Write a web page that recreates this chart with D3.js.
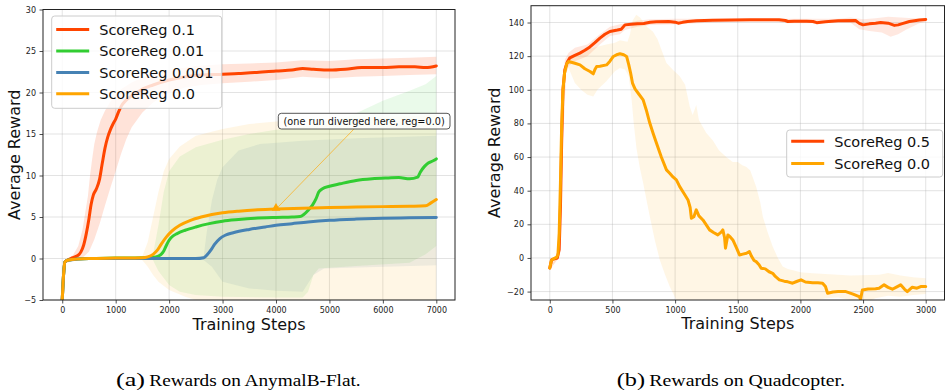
<!DOCTYPE html>
<html>
<head>
<meta charset="utf-8">
<script src="https://cdn.jsdelivr.net/npm/d3@7"></script>
<style>
  body { margin: 0; background: #fff; }
  svg { display: block; }
</style>
</head>
<body>
<svg id="fig" width="946" height="392"></svg>
<script>
// ---------------- AnymalB-Flat (left panel) ----------------
const anymalLabels = ["ScoreReg 0.1", "ScoreReg 0.01", "ScoreReg 0.001", "ScoreReg 0.0"];
const anymalColors = ["#ff4500", "#32cd32", "#4682b4", "#ffa500"];
const anymalXTicks = [0, 1000, 2000, 3000, 4000, 5000, 6000, 7000];
const anymalYTicks = [-5, 0, 5, 10, 15, 20, 25, 30];

// mean curves: [step, reward]
const anymalReg01 = [[0,-5],[30,-1.5],[50,-0.4],[100,-0.2],[200,0.1],[300,0.4],[350,0.8],[400,1.6],[450,3],[500,4.8],[540,6.5],[580,7.6],[640,8.4],[700,9.6],[750,11.5],[800,13.3],[850,14.6],[900,15.5],[950,16.2],[1000,16.8],[1050,17.6],[1100,18.3],[1200,19.1],[1300,19.6],[1400,20],[1500,20.4],[1700,20.9],[2000,21.5],[2300,21.9],[2600,22.1],[3000,22.2],[3300,22.3],[3600,22.4],[4000,22.6],[4300,22.7],[4500,22.9],[4700,22.8],[5000,22.7],[5300,22.8],[5600,23.0],[6000,23.0],[6300,23.1],[6600,23.1],[6800,23.0],[7000,23.2]];
const anymalReg001 = [[0,-5],[30,-1.5],[50,-0.4],[100,-0.2],[500,0],[1000,0.05],[1500,0.1],[1700,0.15],[1800,0.3],[1850,0.5],[1900,0.9],[1950,1.6],[2000,2.2],[2050,2.6],[2150,3.0],[2300,3.4],[2500,3.8],[2750,4.2],[3000,4.5],[3300,4.7],[3600,4.85],[4000,4.95],[4300,5.0],[4450,5.05],[4520,5.3],[4600,5.8],[4680,6.4],[4750,7.2],[4800,8.0],[4870,8.4],[5000,8.7],[5200,9.0],[5500,9.4],[5800,9.6],[6100,9.7],[6300,9.75],[6500,9.6],[6650,9.8],[6700,10.4],[6780,11.1],[6850,11.5],[6950,11.8],[7000,12]];
const anymalReg0001 = [[0,-5],[30,-1.5],[50,-0.4],[100,-0.2],[500,0],[1000,0],[1500,0],[2000,0],[2500,0],[2650,0.1],[2720,0.5],[2780,1.0],[2850,1.7],[2950,2.4],[3050,2.8],[3200,3.1],[3500,3.5],[3800,3.8],[4000,4.0],[4300,4.2],[4600,4.4],[5000,4.6],[5500,4.75],[6000,4.85],[6500,4.9],[7000,4.95]];
const anymalReg0 = [[0,-5],[30,-1.5],[50,-0.4],[100,-0.2],[500,0],[1000,0.05],[1500,0.1],[1600,0.2],[1700,0.5],[1780,1.0],[1850,1.7],[1950,2.6],[2050,3.3],[2200,4.0],[2400,4.6],[2600,5.0],[2800,5.3],[3000,5.5],[3300,5.7],[3600,5.85],[4000,5.95],[4500,6.05],[5000,6.15],[5500,6.2],[6000,6.25],[6500,6.3],[6800,6.35],[6900,6.7],[7000,7.1]];

// spread bands: upper and lower edges, [step, reward]
const anymalReg01Hi = [[0,-4.8],[50,-0.2],[200,0.4],[300,1.5],[380,3.5],[430,5.5],[480,7.5],[520,10],[560,12],[600,13.8],[650,15.2],[720,16.7],[800,17.8],[900,18.9],[1000,19.7],[1100,20.4],[1300,21.2],[1500,21.8],[1800,22.4],[2000,22.7],[2500,23.2],[3000,23.4],[3500,23.5],[4000,23.6],[4500,23.9],[5000,23.8],[5500,24],[6000,24.1],[6500,24.2],[7000,24.3]];
const anymalReg01Lo = [[0,-5.2],[50,-0.6],[200,-0.3],[300,-0.1],[400,0.2],[500,0.8],[600,2.3],[700,4.2],[800,6.4],[900,8.5],[1000,10.5],[1100,12.6],[1200,14.4],[1300,15.8],[1500,17.6],[1700,18.8],[2000,20],[2300,20.6],[2600,20.9],[3000,21.1],[3500,21.3],[4000,21.5],[4500,21.9],[5000,21.7],[5500,21.9],[6000,22],[6500,22.1],[7000,22.2]];
const anymalReg001Hi = [[1600,0.2],[1700,0.5],[1800,4],[1900,8],[2000,10.5],[2200,12.3],[2500,13.4],[3000,14.3],[3500,15],[4000,15.5],[4500,15.9],[5000,16.3],[5500,17.5],[6000,19],[6500,20.2],[6800,21],[7000,22]];
const anymalReg001Lo = [[1600,0],[1700,-0.2],[1800,-1.5],[2000,-3.2],[2200,-4],[2500,-4.4],[3000,-4.6],[4000,-4.7],[4500,-4.7],[4600,-4],[4700,-2],[4800,-1.2],[5500,-0.9],[6500,-0.5],[6800,0.5],[7000,1.5]];
const anymalReg0001Hi = [[2550,0],[2650,0.4],[2700,3],[2800,7],[2900,9.5],[3000,11],[3300,13],[3700,13.8],[4500,14.2],[5500,14.5],[7000,14.8]];
const anymalReg0001Lo = [[2550,0],[2650,-0.2],[2800,-1],[3000,-2.8],[3500,-3.6],[4000,-3.9],[4500,-4],[4700,-2],[4900,-1.2],[7000,-0.8]];
const anymalReg0Hi = [[1400,0.1],[1500,0.3],[1600,2],[1700,5],[1800,8],[1900,10.5],[2000,12],[2200,13.5],[2500,14.8],[3000,15.6],[3500,16.2],[4000,16.5],[5000,16.8],[6000,17],[7000,17.3]];
const anymalReg0Lo = [[1400,0],[1500,-0.2],[1600,-1],[1700,-2],[1800,-2.8],[2000,-3.8],[2300,-4.6],[2600,-5.2],[7000,-5.4]];

// annotated point where one run diverged
const divergeStep = 4000;
const divergeReward = 5.95;
const divergeNote = "(one run diverged here, reg=0.0)";

// ---------------- Quadcopter (right panel) ----------------
const quadLabels = ["ScoreReg 0.5", "ScoreReg 0.0"];
const quadColors = ["#ff4500", "#ffa500"];
const quadXTicks = [0, 500, 1000, 1500, 2000, 2500, 3000];
const quadYTicks = [-20, 0, 20, 40, 60, 80, 100, 120, 140];

const quadReg05 = [[0,-6],[15,-1],[60,0],[75,5],[85,30],[95,70],[105,100],[120,112],[140,116.5],[160,119],[200,120.5],[240,121.8],[280,123.5],[320,125.5],[360,128],[400,130.7],[440,133],[480,134.7],[540,135.5],[570,136],[600,138.6],[650,139],[700,139.2],[750,139.4],[800,140.2],[850,140.5],[950,140.6],[1000,140.2],[1025,139.6],[1060,140.1],[1100,140.6],[1170,141],[1300,141.3],[1450,141.5],[1600,141.6],[1750,141.6],[1830,141.6],[1880,141.2],[1900,140.6],[1950,140.8],[2050,140.7],[2100,140.6],[2130,139.9],[2200,140.5],[2300,141],[2440,141.2],[2470,139.5],[2500,138.6],[2550,139.2],[2600,139.6],[2640,140],[2700,139.6],[2750,138.3],[2780,138.6],[2820,139.5],[2870,140.6],[2950,141.5],[3000,141.8]];
const quadReg0 = [[0,-6],[12,-1.5],[30,-0.5],[55,0.5],[65,2],[75,15],[85,45],[95,80],[105,100],[118,110],[135,115.5],[150,116.8],[200,115.8],[241,114.8],[280,112.5],[321,110.9],[347,109.5],[360,112],[374,113.8],[400,114],[453,114.8],[480,117],[507,119.8],[540,121],[560,121.4],[590,120.8],[613,119.8],[630,115],[645,110],[660,104],[680,100.5],[710,97.5],[745,94],[770,88],[798,80.2],[825,74],[851,68.3],[890,60],[931,52.4],[957,50.4],[985,48],[1010,46.4],[1037,42.4],[1070,38.5],[1103,34.5],[1120,30],[1130,23.6],[1150,24.5],[1169,28.6],[1190,25],[1222,22.6],[1250,19.5],[1275,16.7],[1310,15],[1341,13.7],[1370,15.5],[1381,16.7],[1395,12],[1402,5.8],[1412,10],[1421,13.7],[1440,12.5],[1461,10.7],[1490,6],[1514,1.8],[1540,2.3],[1570,2.8],[1593,3.8],[1610,1],[1630,-1.5],[1647,-2.2],[1670,-4],[1687,-6.1],[1720,-6.5],[1750,-8.2],[1779,-9.1],[1800,-11],[1832,-13],[1870,-13.8],[1900,-14.2],[1938,-15],[1970,-14],[2005,-13],[2040,-14.3],[2097,-14.7],[2140,-14.8],[2177,-15],[2200,-17],[2217,-21],[2260,-20.2],[2300,-20],[2363,-20],[2420,-21.5],[2469,-23],[2480,-24.5],[2495,-19],[2540,-18.5],[2600,-18.3],[2628,-18],[2668,-16],[2700,-17.5],[2734,-18.6],[2770,-17.2],[2800,-16],[2830,-18.5],[2853,-20],[2893,-17.4],[2930,-18],[2960,-17],[3000,-17]];

const quadReg05Hi = [[0,-5],[60,1],[80,20],[100,100],[120,118],[150,122],[200,125],[300,127],[400,133],[480,137.5],[560,139],[640,140],[700,141],[800,142],[1000,142.2],[1500,142.3],[2000,142.2],[2300,142.3],[2400,143],[2500,142],[2600,142.5],[2700,143.5],[2800,143],[2900,142.5],[3000,142.5]];
const quadReg05Lo = [[0,-7],[60,-1],[80,5],[100,60],[130,110],[150,114],[200,117],[300,120],[400,127],[480,132],[560,133],[600,135.5],[700,137.5],[800,138.5],[1000,139],[1500,140.6],[1800,140.6],[1900,139.5],[2000,139.5],[2400,139.8],[2470,136],[2550,135],[2650,134],[2720,131.5],[2780,133],[2850,136],[2950,139.5],[3000,140.5]];
const quadReg0Hi = [[0,-5],[60,1],[80,20],[100,100],[130,117],[160,120],[250,123],[350,125],[450,127],[520,128],[560,129.5],[620,128.5],[640,133],[660,141],[690,144.6],[720,143],[750,140],[780,137],[800,136],[824,134.5],[860,130],[900,122],[931,116],[980,112],[1037,108],[1080,103],[1117,90],[1140,85],[1169,91],[1190,82],[1249,74.3],[1300,70],[1350,64],[1408,60],[1460,57],[1500,57],[1540,55],[1567,54.3],[1600,52],[1647,42.4],[1680,33],[1700,24.6],[1740,15],[1779,6.8],[1820,0],[1859,-5.1],[1900,-6.5],[1950,-7.5],[2000,-8.5],[2097,-9.1],[2200,-9.5],[2400,-10.5],[2628,-10],[2700,-9],[2800,-10.5],[2900,-11.5],[3000,-12]];
const quadReg0Lo = [[0,-7],[60,-1],[80,5],[100,60],[130,110],[150,113],[200,104],[250,100],[300,97],[347,96],[380,100],[450,105],[520,111],[560,113],[600,112],[630,108],[653,94],[670,80],[692,65],[720,53],[745,44.5],[770,35],[798,24.6],[840,10],[878,-1.2],[920,-10],[957,-17],[990,-22],[1010,-25],[1050,-27],[2000,-27],[2100,-25.5],[2200,-24],[2300,-23.5],[2400,-25],[2500,-27],[2600,-24],[2700,-22.5],[2800,-23],[2900,-22],[3000,-21.5]];

// ---------------- drawing ----------------
const svg = d3.select("#fig");
svg.append("rect").attr("width", 946).attr("height", 392).attr("fill", "#fff");
const FONT = "'DejaVu Sans', sans-serif";

function drawPanel(p) {
  const x = d3.scaleLinear().domain(p.xDomain).range([p.left, p.right]);
  const y = d3.scaleLinear().domain(p.yDomain).range([p.bottom, p.top]);
  const g = svg.append("g");

  g.append("clipPath").attr("id", p.id + "-clip")
    .append("rect")
    .attr("x", p.left).attr("y", p.top)
    .attr("width", p.right - p.left).attr("height", p.bottom - p.top);

  // grid
  const grid = g.append("g").attr("stroke", "#b0b0b0").attr("stroke-opacity", 0.35).attr("stroke-width", 1);
  p.xTicks.forEach(t => grid.append("line")
    .attr("x1", x(t)).attr("x2", x(t)).attr("y1", p.top).attr("y2", p.bottom));
  p.yTicks.forEach(t => grid.append("line")
    .attr("x1", p.left).attr("x2", p.right).attr("y1", y(t)).attr("y2", y(t)));

  const plot = g.append("g").attr("clip-path", `url(#${p.id}-clip)`);

  // spread bands
  const edge = d3.line().x(d => x(d[0])).y(d => y(d[1]));
  p.bands.forEach(b => {
    const poly = b.hi.concat(b.lo.slice().reverse());
    plot.append("path")
      .attr("d", edge(poly) + "Z")
      .attr("fill", b.color).attr("fill-opacity", b.alpha).attr("stroke", "none");
  });

  // mean curves
  const line = d3.line().x(d => x(d[0])).y(d => y(d[1])).curve(p.curve);
  p.series.forEach(s => {
    plot.append("path")
      .attr("d", line(s.data))
      .attr("fill", "none").attr("stroke", s.color)
      .attr("stroke-width", 3).attr("stroke-linejoin", "round").attr("stroke-linecap", "round");
  });

  // axes
  const xAxis = d3.axisBottom(x).tickValues(p.xTicks).tickSize(3.5).tickPadding(3.5).tickFormat(d3.format("d"));
  const yAxis = d3.axisLeft(y).tickValues(p.yTicks).tickSize(3.5).tickPadding(3.5).tickFormat(d3.format("d"));
  const gx = g.append("g").attr("transform", `translate(0,${p.bottom})`).call(xAxis);
  const gy = g.append("g").attr("transform", `translate(${p.left},0)`).call(yAxis);
  [gx, gy].forEach(a => {
    a.select(".domain").remove();
    a.selectAll(".tick line").attr("stroke", "#222").attr("stroke-width", 0.8);
    a.selectAll(".tick text").attr("font-family", FONT).attr("font-size", 8).attr("fill", "#222");
  });

  // frame
  g.append("rect")
    .attr("x", p.left).attr("y", p.top)
    .attr("width", p.right - p.left).attr("height", p.bottom - p.top)
    .attr("fill", "none").attr("stroke", "#222").attr("stroke-width", 1);

  // axis titles
  g.append("text")
    .attr("x", (p.left + p.right) / 2).attr("y", p.xTitleY)
    .attr("text-anchor", "middle").attr("font-family", FONT).attr("font-size", 16).attr("fill", "#111")
    .text("Training Steps");
  g.append("text")
    .attr("transform", `translate(${p.yTitleX},${(p.top + p.bottom) / 2}) rotate(-90)`)
    .attr("text-anchor", "middle").attr("font-family", FONT).attr("font-size", 16).attr("fill", "#111")
    .text("Average Reward");

  // legend
  const L = p.legend;
  const lg = g.append("g");
  lg.append("rect")
    .attr("x", L.x).attr("y", L.y).attr("width", L.w).attr("height", L.h)
    .attr("rx", 3).attr("fill", "#fff").attr("fill-opacity", 0.8)
    .attr("stroke", "#cccccc").attr("stroke-width", 1);
  p.series.forEach((s, i) => {
    const cy = L.y + L.first + i * L.step;
    lg.append("line")
      .attr("x1", L.x + 4.5).attr("x2", L.x + 37.5).attr("y1", cy).attr("y2", cy)
      .attr("stroke", s.color).attr("stroke-width", 3);
    lg.append("text")
      .attr("x", L.x + 47.5).attr("y", cy + 5.3)
      .attr("font-family", FONT).attr("font-size", 14.5).attr("fill", "#111")
      .text(s.label);
  });

  return { x, y, g };
}

// left panel
const left = drawPanel({
  id: "anymal",
  left: 43, right: 455, top: 9.5, bottom: 300,
  xDomain: [-360, 7350], yDomain: [-5, 30],
  xTicks: anymalXTicks, yTicks: anymalYTicks,
  curve: d3.curveMonotoneX,
  bands: [
    { hi: anymalReg01Hi, lo: anymalReg01Lo, color: anymalColors[0], alpha: 0.15 },
    { hi: anymalReg001Hi, lo: anymalReg001Lo, color: anymalColors[1], alpha: 0.1 },
    { hi: anymalReg0001Hi, lo: anymalReg0001Lo, color: anymalColors[2], alpha: 0.1 },
    { hi: anymalReg0Hi, lo: anymalReg0Lo, color: anymalColors[3], alpha: 0.1 }
  ],
  series: [anymalReg01, anymalReg001, anymalReg0001, anymalReg0].map((d, i) =>
    ({ data: d, color: anymalColors[i], label: anymalLabels[i] })),
  xTitleY: 329.5, yTitleX: 20,
  legend: { x: 51.7, y: 16, w: 170, h: 92.3, first: 13.6, step: 21.4 }
});

// annotation on the left panel
{
  const px = left.x(divergeStep), py = left.y(divergeReward);
  const ann = left.g.append("g");
  const boxX = 278.3, boxY = 113.3, boxW = 171.7, boxH = 15.7;
  ann.append("line")
    .attr("x1", 354).attr("y1", boxY + boxH).attr("x2", px + 2).attr("y2", py - 2)
    .attr("stroke", "#ffa500").attr("stroke-opacity", 0.7).attr("stroke-width", 0.9);
  // arrow head + triangle marker at the diverging point
  ann.append("path")
    .attr("d", d3.symbol().type(d3.symbolTriangle).size(34)())
    .attr("transform", `translate(${px},${py - 1})`)
    .attr("fill", "#ffa500");
  ann.append("rect")
    .attr("x", boxX).attr("y", boxY).attr("width", boxW).attr("height", boxH)
    .attr("rx", 3).attr("fill", "#fff").attr("fill-opacity", 0.85)
    .attr("stroke", "#444").attr("stroke-width", 0.9);
  ann.append("text")
    .attr("x", boxX + boxW / 2).attr("y", boxY + 11.2)
    .attr("text-anchor", "middle").attr("font-family", FONT).attr("font-size", 9.7).attr("fill", "#111")
    .text(divergeNote);
}

// right panel
drawPanel({
  id: "quad",
  left: 531, right: 944.5, top: 5.7, bottom: 300,
  xDomain: [-150, 3150], yDomain: [-25, 150],
  xTicks: quadXTicks, yTicks: quadYTicks,
  curve: d3.curveLinear,
  bands: [
    { hi: quadReg05Hi, lo: quadReg05Lo, color: quadColors[0], alpha: 0.12 },
    { hi: quadReg0Hi, lo: quadReg0Lo, color: quadColors[1], alpha: 0.1 }
  ],
  series: [quadReg05, quadReg0].map((d, i) =>
    ({ data: d, color: quadColors[i], label: quadLabels[i] })),
  xTitleY: 328.5, yTitleX: 499.5,
  legend: { x: 786.7, y: 130, w: 156, h: 47, first: 11.2, step: 22.3 }
});

// captions
const SERIF = "'Liberation Serif', 'Times New Roman', serif";
function caption(tag, text, tagX, tagW, textX, textW) {
  svg.append("text").attr("x", tagX).attr("y", 386)
    .attr("font-family", SERIF).attr("font-size", 18).attr("fill", "#000")
    .attr("textLength", tagW).attr("lengthAdjust", "spacingAndGlyphs")
    .text(tag);
  svg.append("text").attr("x", textX).attr("y", 386)
    .attr("font-family", SERIF).attr("font-size", 16).attr("fill", "#000")
    .attr("textLength", textW).attr("lengthAdjust", "spacingAndGlyphs")
    .text(text);
}
caption("(a)", "Rewards on AnymalB-Flat.", 116, 29, 149.3, 211.4);
caption("(b)", "Rewards on Quadcopter.", 616.7, 28.3, 649.3, 195.7);
</script>
</body>
</html>
